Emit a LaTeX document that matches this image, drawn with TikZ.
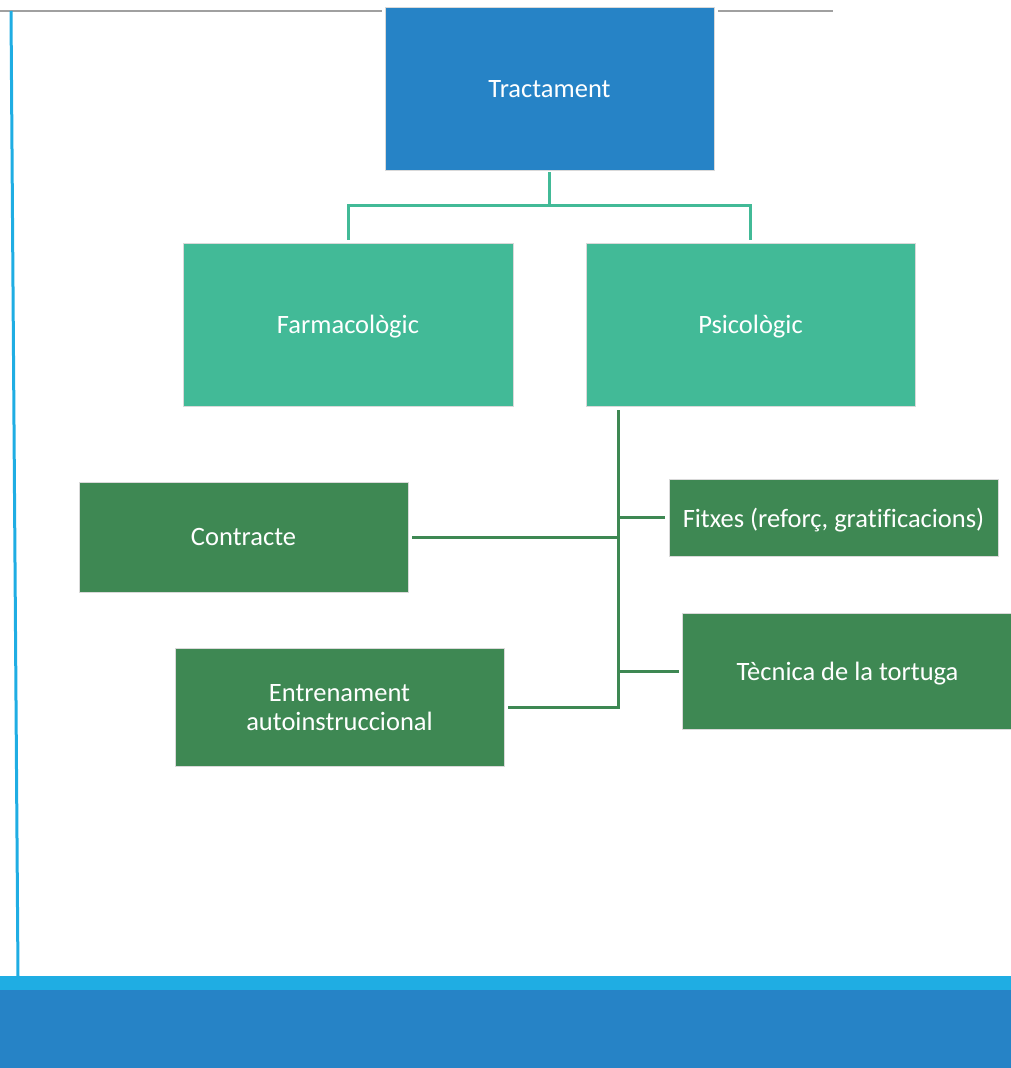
\documentclass[tikz,border=0pt]{standalone}
\usepackage{fontspec}
\setmainfont[Ligatures=NoCommon]{Carlito}
\definecolor{topblue}{HTML}{2683C6}
\definecolor{bandcyan}{HTML}{1FADE3}
\definecolor{teal}{HTML}{42BA97}
\definecolor{darkgreen}{HTML}{3E8853}
\definecolor{rulegray}{HTML}{A0A0A0}
\begin{document}
\begin{tikzpicture}[x=1pt,y=-1pt,
  box/.style={draw=white!85!black, line width=0.6pt, text=white, align=center,
    font=\fontsize{26.5}{29}\selectfont, inner sep=0pt, text depth=0pt},
  tealline/.style={draw=teal, line width=3pt},
  greenline/.style={draw=darkgreen, line width=3pt}]
\useasboundingbox (0,0) rectangle (1011,1068);

% page decoration: top rule, left margin line, bottom band
\draw[rulegray, line width=2pt] (0,11) -- (382,11);
\draw[rulegray, line width=2pt] (718,11) -- (833,11);
\draw[bandcyan, line width=3pt] (11,11) -- (18,976);
\fill[bandcyan] (0,976) rectangle (1011,990);
\fill[topblue] (0,990) rectangle (1011,1068);

% boxes
\node[box, fill=topblue, minimum width=329pt, minimum height=163pt] (tr) at (549.5,88.5) {Tractament};
\node[box, fill=teal, minimum width=330pt, minimum height=163pt] (farm) at (348,324.5) {Farmacològic};
\node[box, fill=teal, minimum width=329pt, minimum height=163pt] (psic) at (750.5,324.5) {Psicològic};
\node[box, fill=darkgreen, minimum width=329pt, minimum height=110pt] (contr) at (243.5,537) {Contracte};
\node[box, fill=darkgreen, minimum width=329pt, minimum height=77pt] (fitx) at (833.5,517.5) {Fitxes (reforç, gratificacions)};
\node[box, fill=darkgreen, minimum width=329pt, minimum height=118pt] (entr) at (339.5,707) {Entrenament\\autoinstruccional};
\node[box, fill=darkgreen, minimum width=331pt, minimum height=116pt] (tecn) at (847.5,671) {Tècnica de la tortuga};

% level 1 connectors
\draw[tealline] ([yshift=-2pt]tr.south) -- ++(0,33) coordinate (split)
  -| ([yshift=3pt]farm.north);
\draw[tealline] (split) -| ([yshift=3pt]psic.north);

% level 2 trunk and branches
\coordinate (trunktop) at (618,410);
\draw[greenline] ([xshift=4pt]entr.east) -| (trunktop);
\draw[greenline] ([xshift=4pt]contr.east) -- (trunktop |- contr.east);
\draw[greenline] (trunktop |- fitx.west) -- ([xshift=-4pt]fitx.west);
\draw[greenline] (trunktop |- tecn.west) -- ([xshift=-3pt]tecn.west);
\end{tikzpicture}
\end{document}
